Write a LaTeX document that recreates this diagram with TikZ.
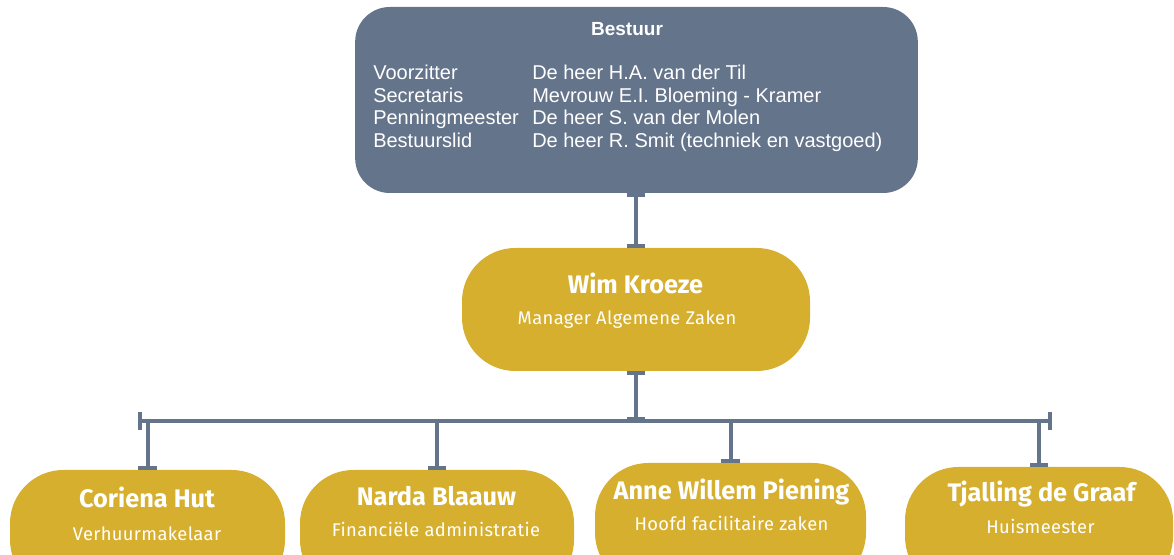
\documentclass[tikz,border=0pt]{standalone}
\usepackage{fontspec}
\setmainfont{Liberation Sans}
\newfontfamily\cardfont{Fira Sans}
\newfontfamily\rolefont[LetterSpace=2]{Fira Sans}
\usepackage{xcolor}
\usetikzlibrary{arrows.meta, positioning}
\definecolor{slate}{HTML}{64748B}
\definecolor{gold}{HTML}{D6AF2E}

\begin{document}
\begin{tikzpicture}[
  x=0.75pt, y=-0.75pt,
  board/.style={rectangle, rounded corners=26pt, fill=slate, minimum width=422pt, minimum height=139.5pt, outer sep=0pt},
  staff/.style={rectangle, rounded corners=40pt, fill=gold, minimum width=#1, minimum height=92.25pt, outer sep=0pt},
  link/.style={slate, line width=3pt},
  bars/.style={{Bar[width=14pt]}-{Bar[width=14pt]}},
  board_title/.style={text=white, inner sep=0pt, anchor=base, font=\fontsize{14.25}{17}\selectfont\bfseries},
  board_text/.style={text=white, inner sep=0pt, anchor=base west, font=\fontsize{15}{18}\selectfont},
  name_label/.style={text=white, inner sep=0pt, anchor=base, font=\cardfont\bfseries\fontsize{19}{22}\selectfont},
  role_label/.style={text=white, inner sep=0pt, anchor=base, font=\rolefont\fontsize{13.75}{16}\selectfont}
]
  \useasboundingbox (0,0) rectangle (1174,555);
  \clip (0,0) rectangle (1174,555);

  % Bestuur
  \node[board] (bestuur) at (636.5, 100) {};
  \node[board_title] (titel) at (627, 36) {Bestuur};
  \foreach \role/\person [count=\i] in {Voorzitter/De heer H.A. van der Til, Secretaris/Mevrouw E.I. Bloeming - Kramer, Penningmeester/De heer S. van der Molen, Bestuurslid/De heer R. Smit (techniek en vastgoed)} {
    \node[board_text] (role\i) at (373, 57.5+22.5*\i) {\role};
    \node[board_text] (person\i) at (532, 57.5+22.5*\i) {\person};
  }

  % Manager
  \node[staff=261pt] (wim) at (636, 309.5) {};
  \node[name_label] (wimN) at (635.5, 294) {Wim Kroeze};
  \node[role_label] (wimR) at (627, 325) {Manager Algemene Zaken};

  % Medewerkers
  \node[staff=206.25pt] (coriena) at (147.5, 531.5) {};
  \node[name_label] (corienaN) at (147, 508) {Coriena Hut};
  \node[role_label] (corienaR) at (147, 540) {Verhuurmakelaar};

  \node[staff=205.5pt] (narda) at (437, 531.5) {};
  \node[name_label] (nardaN) at (436.5, 505) {Narda Blaauw};
  \node[role_label] (nardaR) at (436, 536) {Financiële administratie};

  \node[staff=203.25pt] (anne) at (730.5, 524.5) {};
  \node[name_label] (anneN) at (731.5, 499) {Anne Willem Piening};
  \node[role_label] (anneR) at (731.5, 530) {Hoofd facilitaire zaken};

  \node[staff=201pt] (tjalling) at (1039, 528.5) {};
  \node[name_label] (tjallingN) at (1041.5, 502) {Tjalling de Graaf};
  \node[role_label] (tjallingR) at (1040.5, 533) {Huismeester};

  % Connectors
  \coordinate (busL) at (138, 421);
  \coordinate (busR) at (1052, 421);
  \draw[link, bars] (wim.north |- bestuur.south) -- (wim.north);
  \draw[link, bars] (wim.south) -- (wim.south |- busL);
  \draw[link, bars] (busL) -- (busR);
  \foreach \n in {coriena, narda, anne, tjalling} {
    \draw[link, -{Bar[width=14pt]}] (\n.north |- busL) -- (\n.north);
  }
\end{tikzpicture}
\end{document}
